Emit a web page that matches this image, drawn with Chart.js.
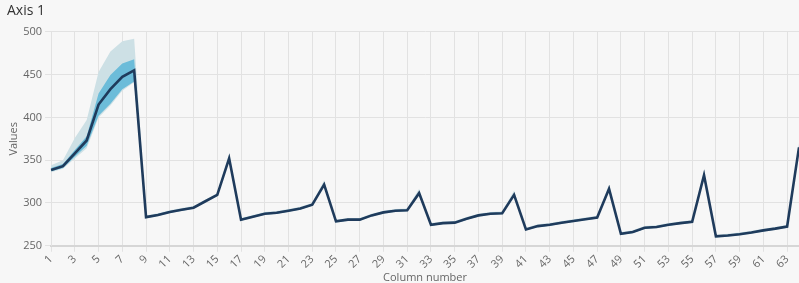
<!DOCTYPE html>
<html>
<head>
<meta charset="utf-8">
<script src="https://cdn.jsdelivr.net/npm/chart.js@4"></script>
<style>
  html, body { margin: 0; padding: 0; background: #f7f7f7; }
  #wrap { width: 799px; height: 283px; }
</style>
</head>
<body>
<div id="wrap"><canvas id="myChart"></canvas></div>
<script>
const columns = [];
for (let i = 1; i <= 64; i++) columns.push(String(i));

const meanValues = [
  338.5, 343, 358, 373, 415, 433, 447.5, 455,
  283.5, 286, 289.5, 292, 294.5, 302, 309.5, 352,
  280.5, 284, 287.5, 288.5, 291, 293.5, 298, 321.5,
  278.5, 280.5, 280.5, 285.5, 289, 291, 291.5, 311.5,
  274.5, 276.5, 277, 281.5, 285.5, 287.5, 288, 309.5,
  269, 273, 274.5, 277, 279, 281, 283, 316.5,
  264, 266, 271, 272, 274.5, 276.5, 278, 332.5,
  261, 262, 263.5, 265.5, 268, 270, 272.5, 365
];
const innerLow = [
  337, 341, 354, 367, 402, 416, 433, 442,
  282.5, 285, 288.5, 291, 293.5, 301, 308.5, 350.5,
  279.5, 283, 286.5, 287.5, 290, 292.5, 297, 320,
  277.5, 279.5, 279.5, 284.5, 288, 290, 290.5, 310,
  273.5, 275.5, 276, 280.5, 284.5, 286.5, 287, 308,
  268, 272, 273.5, 276, 278, 280, 282, 315,
  263, 265, 270, 271, 273.5, 275.5, 277, 331,
  260, 261, 262.5, 264.5, 267, 269, 271.5, 363
];
const innerHigh = [
  341, 345.5, 362, 378, 428, 449.5, 463, 468,
  284.5, 287, 290.5, 293, 295.5, 303, 310.5, 354,
  281.5, 285, 288.5, 289.5, 292, 294.5, 299, 323,
  279.5, 281.5, 281.5, 286.5, 290, 292, 292.5, 313,
  275.5, 277.5, 278, 282.5, 286.5, 288.5, 289, 311,
  270, 274, 275.5, 278, 280, 282, 284, 318,
  265, 267, 272, 273, 275.5, 277.5, 279, 334.5,
  262, 263, 264.5, 266.5, 269, 271, 273.5, 367
];
const outerLow = [
  336, 340, 352, 364, 400, 414, 431, 441,
  282, 284.5, 288, 290.5, 293, 300.5, 308, 349,
  279, 282.5, 286, 287, 289.5, 292, 296.5, 319,
  277, 279, 279, 284, 287.5, 289.5, 290, 309,
  273, 275, 275.5, 280, 284, 286, 286.5, 307,
  267.5, 271.5, 273, 275.5, 277.5, 279.5, 281.5, 314,
  262.5, 264.5, 269.5, 270.5, 273, 275, 276.5, 330,
  259.5, 260.5, 262, 264, 266.5, 268.5, 271, 362
];
const outerHigh = [
  344, 350, 376, 397, 453, 477, 489, 492,
  285.5, 288, 291.5, 294, 296.5, 304, 311.5, 358,
  282.5, 286, 289.5, 290.5, 293, 295.5, 300, 326.5,
  280.5, 282.5, 282.5, 287.5, 291, 293, 293.5, 316.5,
  276.5, 278.5, 279, 283.5, 287.5, 289.5, 290, 314.5,
  271, 275, 276.5, 279, 281, 283, 285, 321.5,
  266, 268, 273, 274, 276.5, 278.5, 280, 338.5,
  263, 264, 265.5, 267.5, 270, 272, 274.5, 370
];
const yTicks = [250, 300, 350, 400, 450, 500];

const font = 'Open Sans';
const gridColor = '#e2e2e2';
const textColor = '#666';

// chart.js draws dataset 0 on top, so the line comes first
function band(data, fill, color) {
  return {
    data,
    fill,
    backgroundColor: color,
    borderWidth: 0,
    pointRadius: 0,
    tension: 0
  };
}

const config = {
  type: 'line',
  data: {
    labels: columns,
    datasets: [
      {
        data: meanValues,
        borderColor: '#1f3b5c',
        borderWidth: 2.6,
        pointRadius: 0,
        fill: false,
        tension: 0
      },
      band(innerHigh, '+1', '#6cbcd9'),
      band(innerLow, false, 'transparent'),
      band(outerHigh, '+1', '#cde0e5'),
      band(outerLow, false, 'transparent')
    ]
  },
  options: {
    responsive: true,
    maintainAspectRatio: false,
    animation: false,
    layout: { padding: { left: 7, right: 0, top: 0, bottom: 0 } },
    plugins: {
      legend: { display: false },
      tooltip: { enabled: false },
      title: {
        display: true,
        text: 'Axis 1',
        align: 'start',
        color: '#333',
        font: { family: font, size: 14, weight: 'normal' },
        padding: { top: 3, bottom: 12 }
      }
    },
    scales: {
      x: {
        type: 'category',
        offset: false,
        grid: { color: gridColor, tickLength: 6 },
        border: { color: '#d6d6d6', width: 2 },
        ticks: {
          autoSkip: false,
          minRotation: 45,
          maxRotation: 45,
          padding: 1,
          color: textColor,
          font: { family: font, size: 11 },
          callback: function (val, idx) {
            return idx % 2 === 0 ? this.getLabelForValue(val) : null;
          }
        },
        title: {
          display: true,
          text: 'Column number',
          color: textColor,
          font: { family: font, size: 11, lineHeight: 1 },
          padding: { top: 0, bottom: 0 }
        }
      },
      y: {
        min: 250,
        max: 500,
        grid: { color: gridColor, tickLength: 6 },
        border: { color: gridColor },
        afterBuildTicks: (axis) => { axis.ticks = yTicks.map(v => ({ value: v })); },
        ticks: {
          padding: 3,
          color: textColor,
          font: { family: font, size: 11 }
        },
        title: {
          display: true,
          text: 'Values',
          color: textColor,
          font: { family: font, size: 11 },
          padding: { top: 0, bottom: 0 }
        }
      }
    }
  }
};

const canvas = document.getElementById('myChart').getContext('2d');
const myChart = new Chart(canvas, config);
</script>
</body>
</html>
